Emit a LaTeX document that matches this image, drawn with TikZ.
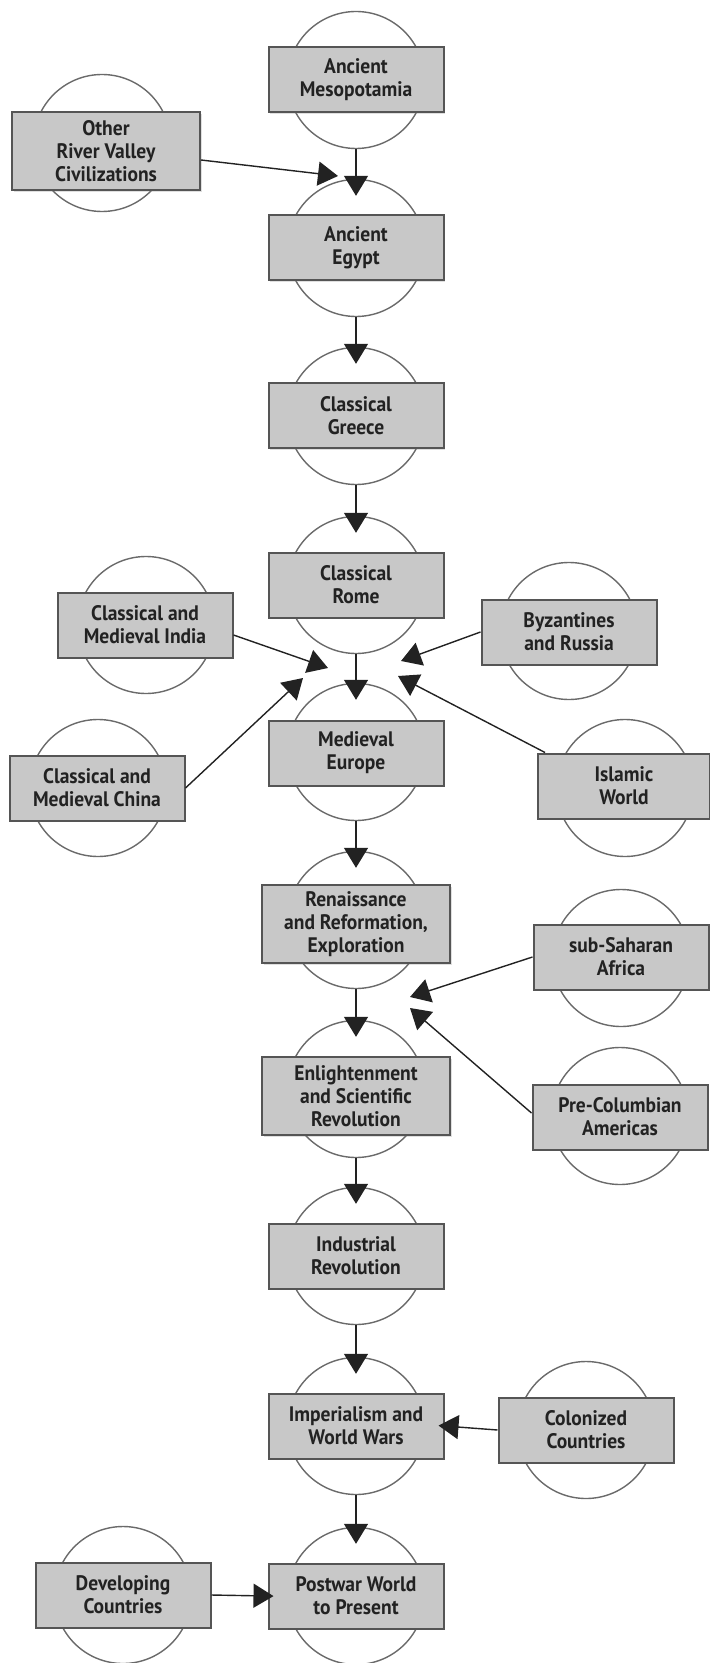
\documentclass[tikz,border=0pt]{standalone}
\usepackage{fontspec}
\setsansfont{PT Sans}[FakeStretch=0.93]
\usetikzlibrary{arrows.meta,calc,shadows}

\definecolor{boxgray}{HTML}{C8C8C8}
\definecolor{edgegray}{HTML}{555555}
\definecolor{ringgray}{HTML}{6A6A6A}
\definecolor{inkgray}{HTML}{222222}

\tikzset{
  ring/.style={circle, draw=ringgray, line width=0.7pt, fill=white, minimum size=68.5pt, inner sep=0pt},
  era/.style={rectangle, draw=edgegray, line width=1pt, fill=boxgray, text=inkgray,
    minimum width=87.5pt, minimum height=32.5pt, inner sep=1pt, align=center,
    font=\sffamily\bfseries\fontsize{10.5}{11.5}\selectfont,
    drop shadow={shadow xshift=0.8pt, shadow yshift=-0.8pt, opacity=0.25}},
  tall/.style={minimum width=94pt, minimum height=39pt},
  flow/.style={draw=inkgray, line width=0.7pt, -{Triangle[length=10pt,width=12pt]}},
}

\begin{document}
\begin{tikzpicture}[x=0.5pt, y=-0.5pt]
  \useasboundingbox (0,0) rectangle (710,1663);

  % circles behind the boxes
  \node[ring] (mesoC) at (356,80) {};
  \node[ring] (egyptC) at (356,248) {};
  \node[ring] (greeceC) at (356,416) {};
  \node[ring] (romeC) at (356,585) {};
  \node[ring] (europeC) at (356,752) {};
  \node[ring] (renaisC) at (356,920) {};
  \node[ring] (enlightC) at (356,1089) {};
  \node[ring] (indusC) at (356,1256) {};
  \node[ring] (imperC) at (356,1426) {};
  \node[ring] (postwarC) at (356,1596) {};

  \node[ring] (otherC) at (102,143) {};
  \node[ring] (indiaC) at (146,625) {};
  \node[ring] (byzC) at (569,631) {};
  \node[ring] (chinaC) at (98,788) {};
  \node[ring] (islamC) at (625,788) {};
  \node[ring] (africaC) at (621,958) {};
  \node[ring] (precolC) at (620,1116) {};
  \node[ring] (colonC) at (586,1430) {};
  \node[ring] (develC) at (123,1595) {};

  % main column
  \draw[flow, shorten >=-8.5pt] (mesoC) -- (egyptC);
  \draw[flow, shorten >=-8.5pt] (egyptC) -- (greeceC);
  \draw[flow, shorten >=-8.5pt] (greeceC) -- (romeC);
  \draw[flow, shorten >=-8.5pt] (romeC) -- (europeC);
  \draw[flow, shorten >=-8.5pt] (europeC) -- (renaisC);
  \draw[flow, shorten >=-8.5pt] (renaisC) -- (enlightC);
  \draw[flow, shorten >=-8.5pt] (enlightC) -- (indusC);
  \draw[flow, shorten >=-8.5pt] (indusC) -- (imperC);
  \draw[flow, shorten >=-8.5pt] (imperC) -- (postwarC);

  % boxes
  \node[era] (meso) at (356,80) {Ancient\\Mesopotamia};
  \node[era] (egypt) at (356,248) {Ancient\\Egypt};
  \node[era] (greece) at (356,416) {Classical\\Greece};
  \node[era] (rome) at (356,585) {Classical\\Rome};
  \node[era] (europe) at (356,753) {Medieval\\Europe};
  \node[era, tall] (renais) at (356,924) {Renaissance\\and Reformation,\\Exploration};
  \node[era, tall] (enlight) at (356,1096) {Enlightenment\\and Scientific\\Revolution};
  \node[era] (indus) at (356,1256) {Industrial\\Revolution};
  \node[era] (imper) at (356,1426) {Imperialism and\\World Wars};
  \node[era] (postwar) at (356,1596) {Postwar World\\to Present};

  \node[era, tall] (other) at (106,151) {Other\\River Valley\\Civilizations};
  \node[era] (india) at (145,625) {Classical and\\Medieval India};
  \node[era] (byz) at (569,632) {Byzantines\\and Russia};
  \node[era] (china) at (97,788) {Classical and\\Medieval China};
  \node[era, minimum width=86pt] (islam) at (624,786) {Islamic\\World};
  \node[era] (africa) at (621,957) {sub-Saharan\\Africa};
  \node[era] (precol) at (620,1117) {Pre-Columbian\\Americas};
  \node[era] (colon) at (586,1430) {Colonized\\Countries};
  \node[era] (devel) at (123,1595) {Developing\\Countries};

  % side influences
  \coordinate (tipO) at (338,176);
  \coordinate (tipI) at (328,668);
  \coordinate (tipB) at (401,661);
  \coordinate (tipC) at (303,678);
  \coordinate (tipW) at (398,676);
  \coordinate (tipA) at (410,997);
  \coordinate (tipP) at (410,1008);

  \draw[flow] ($(other.east)+(0,9)$) -- (tipO);
  \draw[flow] ($(india.east)+(0,10)$) -- (tipI);
  \draw[flow] (byz.west) -- (tipB);
  \draw[flow] (china.east) -- (tipC);
  \draw[flow] ($(islam.north west)+(8,0)$) -- (tipW);
  \draw[flow] (africa.west) -- (tipA);
  \draw[flow] ($(precol.west)+(0,-4)$) -- (tipP);
  \draw[flow, shorten >=-3pt] (colon.west) -- (imper.east);
  \draw[flow, shorten >=-3pt] (devel.east) -- (postwar.west);

\end{tikzpicture}
\end{document}
